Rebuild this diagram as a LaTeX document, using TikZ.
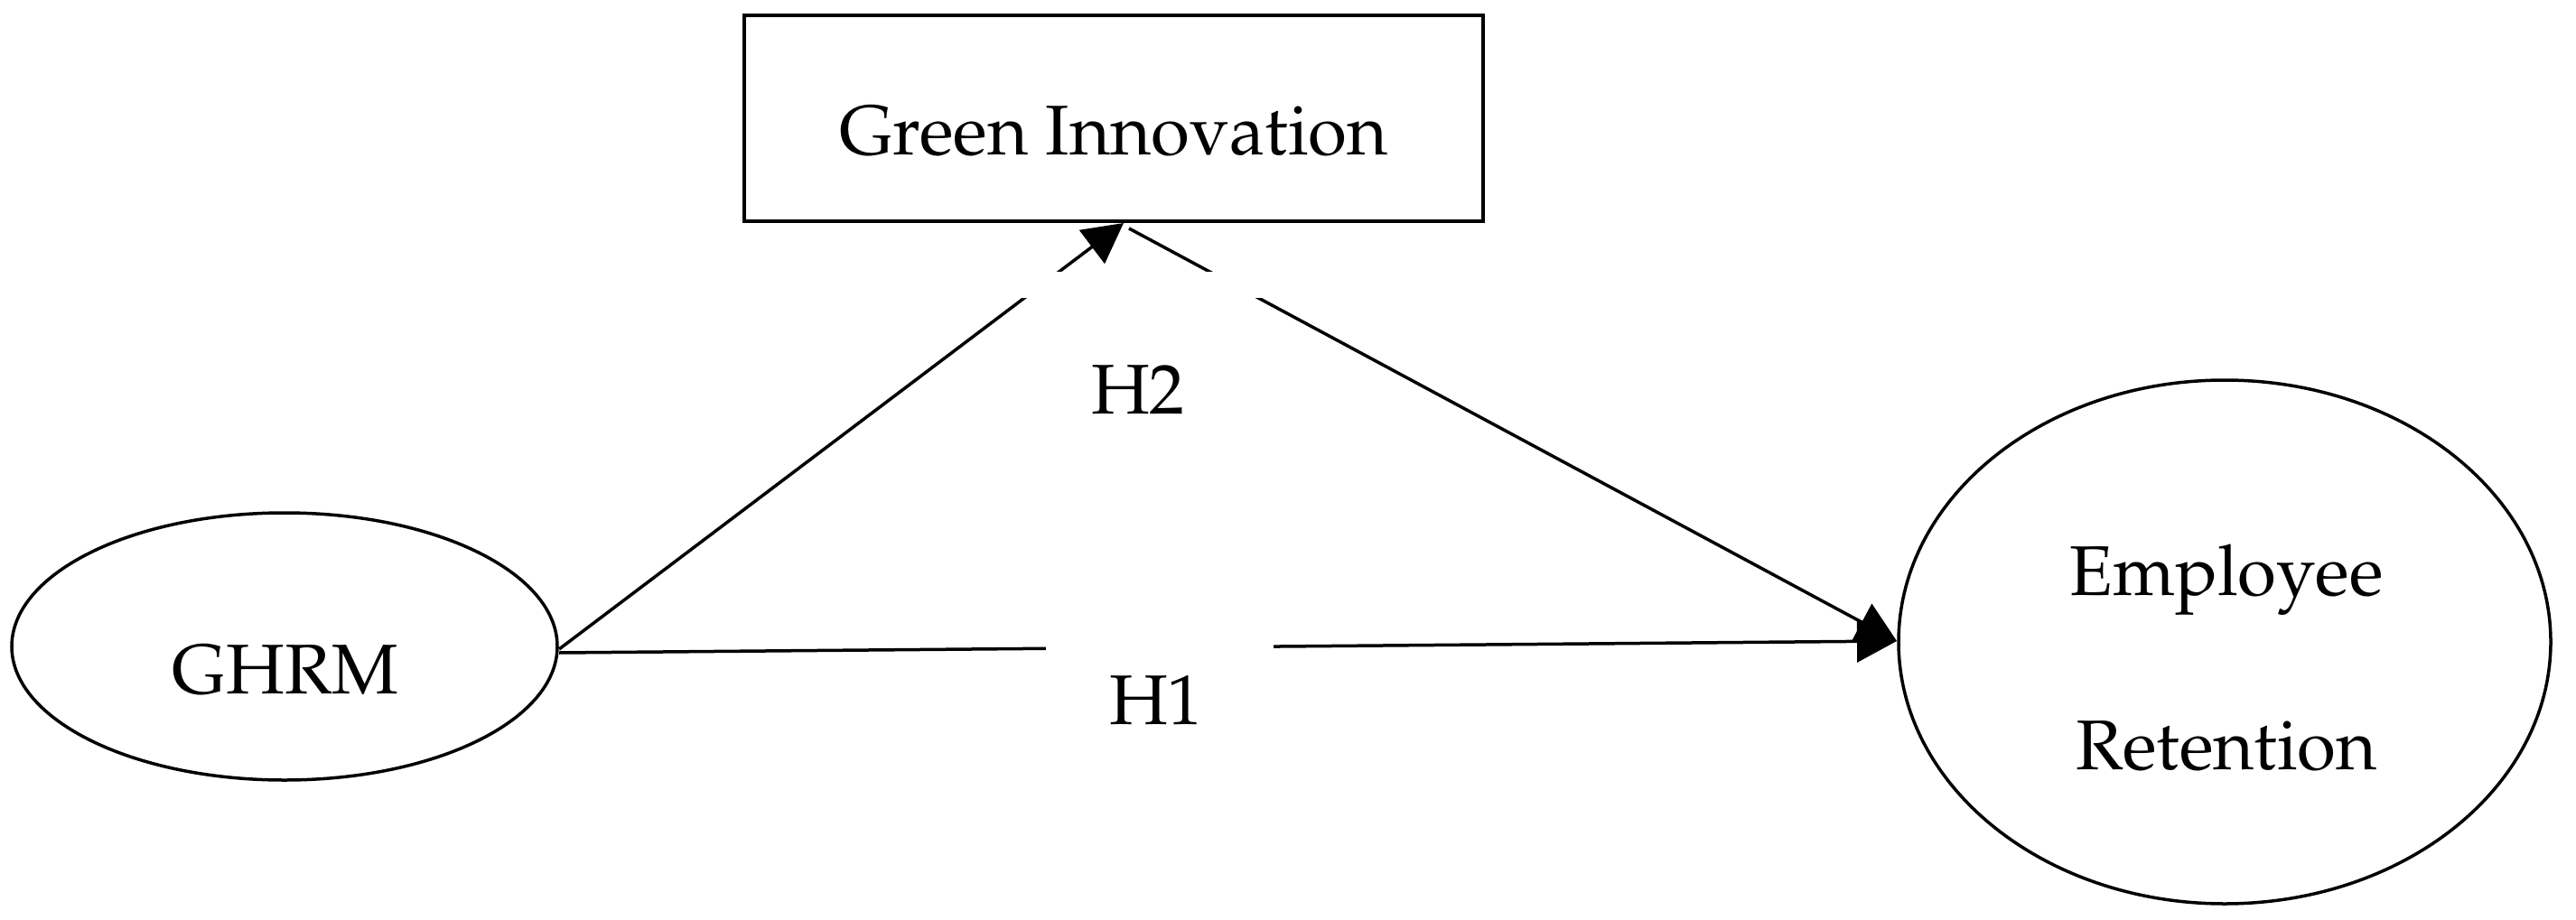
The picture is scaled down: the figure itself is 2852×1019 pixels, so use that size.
\documentclass[tikz,border=0pt]{standalone}
\usepackage[T1]{fontenc}
\usepackage{mathpazo}
\usetikzlibrary{shapes.geometric,arrows.meta,calc}
\tikzset{
  shapeline/.style={draw=black, line width=3.5pt, inner sep=0pt, outer sep=0pt},
  ovalbox/.style={shapeline, ellipse},
  rectbox/.style={draw=black, line width=4.5pt, rectangle, inner sep=0pt, outer sep=0pt},
  txt/.style={anchor=base, inner sep=0pt, font=\fontsize{78}{90}\selectfont},
  conn/.style={line width=3.5pt, -{Triangle[length=44pt,width=46pt]}},
  gapcover/.style={fill=white, draw=none}
}
\begin{document}
\begin{tikzpicture}[x=1pt,y=-1pt]
\useasboundingbox (0,0) rectangle (2852,1019);
% shapes
\node[rectbox, minimum width=818pt, minimum height=228pt] (gi) at (1233,131) {};
\node[ovalbox, minimum width=604pt, minimum height=296pt] (ghrm) at (315,716) {};
\node[ovalbox, minimum width=722pt, minimum height=580pt] (er) at (2463,711) {};
% connectors
\draw[conn] ($(ghrm.east)+(2,3)$) -- ($(gi.south)+(11,2)$);
\draw[conn] ($(gi.south)+(17,8)$) -- ($(er.west)+(-2,-1)$);
\draw[conn] ($(ghrm.east)+(2,7)$) -- ($(er.west)+(-2,-1)$);
% gaps left by the label boxes
\fill[gapcover] (1118,301) rectangle (1402,330);
\fill[gapcover] (1158,695) rectangle (1410,735);
% texts
\node[txt] (gitxt) at (1233,172) {Green Innovation};
\node[txt] (ghrmtxt) at (316,768) {GHRM};
\node[txt] (ertxt1) at (2465,659) {Employee};
\node[txt] (ertxt2) at (2465,852) {Retention};
\node[txt] (h2) at (1260,458) {H2};
\node[txt] (h1) at (1280,802) {H1};
\end{tikzpicture}
\end{document}
